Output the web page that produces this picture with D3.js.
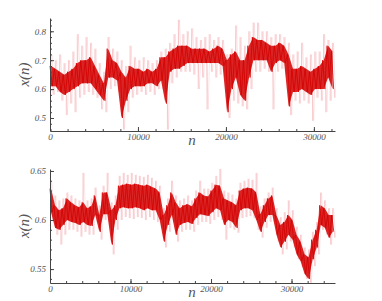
<!DOCTYPE html>
<html lang="en">
<head>
<meta charset="utf-8">
<script src="https://d3js.org/d3.v7.min.js"></script>
<style>
  body { margin: 0; background: #fff; }
  .axis path, .axis line { stroke: #444; }
</style>
</head>
<body>
<div id="chart"></div>
<script>
// bin width in n; each bin gives a high then a low value
var binStep = 500;

// top panel: core band high / low and outer spikes high / low
var topCoreHi  = [.68,.67,.66,.65,.66,.67,.69,.70,.70,.71,.68,.65,.62,.74,.70,.69,.66,.64,.68,.67,.67,.66,.67,.66,.67,.71,.71,.73,.74,.75,.75,.75,.74,.74,.74,.74,.73,.74,.75,.74,.70,.72,.73,.70,.70,.75,.78,.77,.77,.76,.75,.75,.76,.75,.72,.67,.67,.68,.67,.66,.67,.68,.70,.75,.73];
var topCoreLo  = [.61,.61,.59,.58,.59,.60,.61,.62,.62,.62,.60,.58,.56,.64,.64,.63,.50,.56,.60,.61,.61,.61,.62,.62,.61,.63,.55,.66,.67,.67,.68,.69,.69,.69,.69,.69,.69,.69,.69,.68,.52,.60,.64,.58,.56,.64,.70,.70,.70,.70,.66,.69,.70,.69,.54,.59,.59,.60,.59,.58,.60,.60,.60,.64,.60];
var topSpikeHi = [.72,.70,.72,.69,.70,.73,.79,.75,.78,.76,.74,.69,.66,.78,.74,.73,.70,.68,.75,.71,.70,.71,.70,.69,.70,.73,.74,.76,.79,.84,.79,.80,.81,.78,.77,.78,.79,.77,.78,.77,.72,.74,.82,.78,.75,.80,.83,.83,.80,.80,.78,.79,.79,.78,.76,.72,.73,.76,.71,.72,.73,.73,.79,.77,.76];
var topSpikeLo = [.58,.59,.56,.51,.55,.52,.57,.58,.59,.58,.57,.53,.52,.60,.61,.59,.46,.52,.57,.58,.59,.58,.59,.58,.60,.60,.46,.62,.64,.66,.66,.66,.65,.60,.64,.53,.66,.64,.65,.64,.50,.56,.55,.54,.53,.60,.66,.66,.67,.66,.53,.66,.67,.65,.51,.56,.55,.56,.55,.49,.57,.56,.52,.56,.57];

// bottom panel
var botCoreHi  = [.632,.615,.610,.612,.622,.618,.615,.613,.618,.612,.614,.625,.605,.628,.628,.610,.615,.635,.636,.637,.636,.637,.636,.635,.636,.634,.632,.628,.605,.615,.628,.618,.612,.615,.616,.614,.622,.628,.625,.624,.630,.636,.635,.622,.620,.618,.615,.630,.632,.633,.632,.628,.606,.615,.622,.625,.605,.595,.598,.605,.600,.585,.578,.565,.562,.580,.590,.615,.612,.605,.605];
var botCoreLo  = [.608,.592,.590,.595,.600,.598,.597,.595,.598,.595,.594,.605,.588,.606,.606,.575,.600,.612,.613,.612,.612,.613,.612,.610,.612,.610,.610,.600,.578,.595,.605,.585,.595,.597,.598,.596,.602,.606,.605,.604,.608,.612,.610,.595,.600,.598,.592,.610,.612,.612,.610,.600,.588,.598,.605,.605,.585,.572,.578,.585,.580,.565,.558,.545,.540,.560,.572,.595,.592,.582,.588];
var botSpikeHi = [.640,.625,.620,.622,.628,.625,.622,.620,.648,.620,.622,.633,.615,.635,.648,.618,.625,.645,.648,.646,.648,.646,.645,.644,.646,.643,.640,.635,.612,.622,.640,.625,.620,.622,.625,.620,.630,.640,.632,.632,.638,.645,.652,.630,.628,.626,.622,.638,.640,.642,.641,.648,.614,.622,.628,.633,.612,.603,.608,.620,.610,.593,.585,.572,.570,.588,.598,.628,.620,.612,.612];
var botSpikeLo = [.600,.585,.575,.585,.590,.590,.588,.583,.588,.585,.585,.598,.580,.600,.598,.565,.590,.600,.603,.602,.601,.603,.602,.600,.603,.600,.598,.592,.572,.588,.598,.578,.588,.590,.590,.588,.595,.598,.598,.596,.600,.603,.600,.580,.592,.590,.587,.602,.603,.604,.602,.590,.582,.592,.598,.598,.578,.565,.570,.578,.572,.560,.552,.540,.536,.553,.565,.590,.585,.575,.582];

var topTicksY = [0.5, 0.6, 0.7, 0.8];
var botTicksY = [0.55, 0.6, 0.65];
var ticksX = [0, 10000, 20000, 30000];

var svg = d3.select("#chart").append("svg")
    .attr("width", 382)
    .attr("height", 301);

function zig(hi, lo, off) {
    var pts = [];
    hi.forEach(function(v, i) {
        pts.push([i * binStep + off, v]);
        pts.push([i * binStep + off + binStep / 2, lo[i]]);
    });
    return pts;
}

function styleText(sel, size) {
    sel.style("font-family", "'Liberation Serif', 'DejaVu Serif', serif")
        .style("font-style", "italic")
        .style("font-size", size + "px")
        .style("fill", "#555");
}

function panel(opt) {
    var x = d3.scaleLinear().domain([0, opt.xMax]).range([50, 335]);
    var y = d3.scaleLinear().domain(opt.yDomain).range([opt.bottom, opt.top]);
    var g = svg.append("g");

    var line = d3.line()
        .x(function(d) { return x(d[0]); })
        .y(function(d) { return y(d[1]); });

    // pink spikes: upward ones from the core top, downward ones from the core bottom
    g.append("g").selectAll("line")
        .data(opt.spikeHi)
        .join("line")
        .attr("x1", function(d, i) { return x(i * binStep + binStep * 0.2); })
        .attr("x2", function(d, i) { return x(i * binStep + binStep * 0.2); })
        .attr("y1", function(d) { return y(d); })
        .attr("y2", function(d, i) { return y(opt.coreHi[i]); })
        .attr("stroke", "#e8606a")
        .attr("stroke-opacity", 0.45)
        .attr("stroke-width", 0.7);
    g.append("g").selectAll("line")
        .data(opt.spikeLo)
        .join("line")
        .attr("x1", function(d, i) { return x(i * binStep + binStep * 0.7); })
        .attr("x2", function(d, i) { return x(i * binStep + binStep * 0.7); })
        .attr("y1", function(d) { return y(d); })
        .attr("y2", function(d, i) { return y(opt.coreLo[i]); })
        .attr("stroke", "#e8606a")
        .attr("stroke-opacity", 0.45)
        .attr("stroke-width", 0.7);

    g.append("path")
        .datum(zig(opt.spikeHi, opt.spikeLo, binStep * 0.45))
        .attr("d", line)
        .attr("fill", "none")
        .attr("stroke", "#e8606a")
        .attr("stroke-opacity", 0.25)
        .attr("stroke-width", 0.6);

    // dense core band
    var area = d3.area()
        .x(function(d, i) { return x(i * binStep + binStep / 4); })
        .y0(function(d, i) { return y(opt.coreLo[i]); })
        .y1(function(d) { return y(d); });

    g.append("path")
        .datum(opt.coreHi)
        .attr("d", area)
        .attr("fill", "#d40000")
        .attr("fill-opacity", 0.85);

    g.append("path")
        .datum(zig(opt.coreHi, opt.coreLo, 0))
        .attr("d", line)
        .attr("fill", "none")
        .attr("stroke", "#d40000")
        .attr("stroke-opacity", 0.9)
        .attr("stroke-width", 0.9);

    // minor ticks
    g.append("g")
        .attr("class", "axis")
        .attr("transform", "translate(0," + opt.bottom + ")")
        .call(d3.axisBottom(x).tickValues(d3.range(0, opt.xMax, 2000)).tickSize(-2).tickFormat(""))
        .select(".domain").remove();
    g.append("g")
        .attr("class", "axis")
        .attr("transform", "translate(50,0)")
        .call(d3.axisLeft(y).tickValues(opt.minorY).tickSize(-2).tickFormat(""))
        .select(".domain").remove();

    var xa = g.append("g")
        .attr("class", "axis")
        .attr("transform", "translate(0," + opt.bottom + ")")
        .call(d3.axisBottom(x).tickValues(ticksX).tickFormat(d3.format("d")).tickSize(-4).tickPadding(3).tickSizeOuter(0));
    styleText(xa.selectAll("text"), 9);
    var ya = g.append("g")
        .attr("class", "axis")
        .attr("transform", "translate(50,0)")
        .call(d3.axisLeft(y).tickValues(opt.ticksY).tickFormat(d3.format("")).tickSize(-4).tickPadding(4).tickSizeOuter(0));
    styleText(ya.selectAll("text"), 9);

    styleText(g.append("text")
        .attr("transform", "translate(29," + ((opt.top + opt.bottom) / 2) + ") rotate(-90)")
        .attr("text-anchor", "middle")
        .text("x(n)"), 15);
    styleText(g.append("text")
        .attr("x", 192)
        .attr("y", opt.bottom + 14)
        .attr("text-anchor", "middle")
        .text("n"), 15);
}

panel({
    xMax: 32400, yDomain: [0.455, 0.846], top: 18, bottom: 131,
    coreHi: topCoreHi, coreLo: topCoreLo, spikeHi: topSpikeHi, spikeLo: topSpikeLo,
    ticksY: topTicksY, minorY: d3.range(0.46, 0.845, 0.02)
});

panel({
    xMax: 35400, yDomain: [0.5358, 0.652], top: 169, bottom: 283,
    coreHi: botCoreHi, coreLo: botCoreLo, spikeHi: botSpikeHi, spikeLo: botSpikeLo,
    ticksY: botTicksY, minorY: d3.range(0.54, 0.652, 0.01)
});
</script>
</body>
</html>
